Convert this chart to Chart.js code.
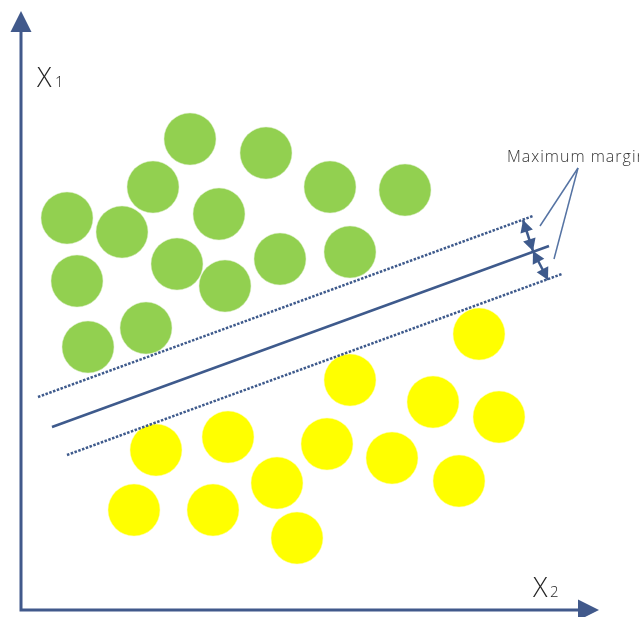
<!DOCTYPE html>
<html>
<head>
<meta charset="utf-8">
<script src="https://cdn.jsdelivr.net/npm/chart.js@4"></script>
<style>
  html, body { margin: 0; padding: 0; background: #ffffff; }
  #svmChart { display: block; }
</style>
</head>
<body>
<canvas id="svmChart" width="639" height="617"></canvas>
<script>
// Class A (green) and class B (yellow) samples, x = X2, y = X1
const greenX2 = [169, 245, 132, 309, 384, 46, 101, 198, 156, 259, 329, 56, 204, 125, 67];
const greenX1 = [471, 457, 423, 423, 420, 392, 378, 396, 346, 351, 358, 329, 324, 282, 263];
const yellowX2 = [458, 329, 412, 478, 135, 207, 306, 371, 438, 256, 113, 192, 276];
const yellowX1 = [276, 230, 208, 193, 160, 173, 166, 152, 129, 127, 100, 100, 72];

// Separating hyperplane and the two margin boundaries (start / end)
const hyperplaneX2 = [31, 528];
const hyperplaneX1 = [183, 364];
const upperMarginX2 = [17, 512];
const upperMarginX1 = [213, 394];
const lowerMarginX2 = [46, 541];
const lowerMarginX1 = [155, 336];

// Double arrows showing the margin width
const marginArrowX2 = [[502, 512], [512, 527]];
const marginArrowX1 = [[390, 359], [359, 330]];

// Callout from the label to each arrow
const calloutX2 = [557, 519, 533];
const calloutX1 = [442, 384, 351];

// Axis extents and labels
const axisMaxX2 = 578;
const axisMaxX1 = 599;
const labelText = 'Maximum margin';
const labelX2 = 486;
const labelX1 = 448;

const axisColor = '#41598B';
const lineColor = '#3E5A8C';

function toPoints(xs, ys) {
    return xs.map((x, i) => ({ x: x, y: ys[i] }));
}

function lineDataset(xs, ys, dashed) {
    return {
        type: 'line',
        data: toPoints(xs, ys),
        borderColor: lineColor,
        borderWidth: 2.5,
        borderDash: dashed ? [2.5, 1.5] : [],
        pointRadius: 0,
        fill: false,
        order: 0
    };
}

// filled triangle whose tip sits at (tx, ty), pointing away from (fx, fy)
function arrowHead(ctx, tx, ty, fx, fy, len, half) {
    const a = Math.atan2(ty - fy, tx - fx);
    const bx = tx - len * Math.cos(a);
    const by = ty - len * Math.sin(a);
    ctx.beginPath();
    ctx.moveTo(tx, ty);
    ctx.lineTo(bx + half * Math.sin(a), by - half * Math.cos(a));
    ctx.lineTo(bx - half * Math.sin(a), by + half * Math.cos(a));
    ctx.closePath();
    ctx.fill();
}

const decorations = {
    id: 'decorations',
    afterDatasetsDraw(chart) {
        const ctx = chart.ctx;
        const xs = chart.scales.x;
        const ys = chart.scales.y;
        const px = v => xs.getPixelForValue(v);
        const py = v => ys.getPixelForValue(v);

        ctx.save();

        // X1 / X2 axes with arrow heads
        const ox = px(0), oy = py(0);
        ctx.strokeStyle = axisColor;
        ctx.fillStyle = axisColor;
        ctx.lineWidth = 3;
        ctx.beginPath();
        ctx.moveTo(ox, py(axisMaxX1) + 18);
        ctx.lineTo(ox, oy);
        ctx.lineTo(px(axisMaxX2) - 18, oy);
        ctx.stroke();
        arrowHead(ctx, ox, py(axisMaxX1), ox, oy, 21, 10.5);
        arrowHead(ctx, px(axisMaxX2), oy, ox, oy, 21, 10.5);

        // margin double arrows
        ctx.strokeStyle = lineColor;
        ctx.fillStyle = lineColor;
        ctx.lineWidth = 2.5;
        marginArrowX2.forEach((xPair, i) => {
            const x1 = px(xPair[0]), y1 = py(marginArrowX1[i][0]);
            const x2 = px(xPair[1]), y2 = py(marginArrowX1[i][1]);
            ctx.beginPath();
            ctx.moveTo(x1, y1);
            ctx.lineTo(x2, y2);
            ctx.stroke();
            arrowHead(ctx, x1, y1, x2, y2, 12, 6.5);
            arrowHead(ctx, x2, y2, x1, y1, 12, 6.5);
        });

        // callout lines
        ctx.strokeStyle = '#5573A3';
        ctx.lineWidth = 1.5;
        for (let i = 1; i < calloutX2.length; i++) {
            ctx.beginPath();
            ctx.moveTo(px(calloutX2[0]), py(calloutX1[0]));
            ctx.lineTo(px(calloutX2[i]), py(calloutX1[i]));
            ctx.stroke();
        }

        // text
        ctx.fillStyle = '#333333';
        ctx.textBaseline = 'alphabetic';
        ctx.textAlign = 'left';
        ctx.font = '300 16px "Open Sans"';
        ctx.letterSpacing = '1px';
        ctx.fillText(labelText, px(labelX2), py(labelX1));
        ctx.letterSpacing = '0px';

        ctx.fillStyle = '#262626';
        ctx.font = '300 27px "Open Sans"';
        ctx.fillText('X', 37, 87);
        ctx.fillText('X', 533, 597);
        ctx.font = '300 15px "Open Sans"';
        ctx.fillText('1', 55, 87);
        ctx.fillText('2', 550, 597);

        ctx.restore();
    }
};

const ctx = document.getElementById('svmChart').getContext('2d');
const svmChart = new Chart(ctx, {
    type: 'scatter',
    data: {
        datasets: [
            {
                data: toPoints(greenX2, greenX1),
                backgroundColor: '#92D050',
                borderColor: '#DDEFCB',
                borderWidth: 0.5,
                pointRadius: 26,
                order: 1
            },
            {
                data: toPoints(yellowX2, yellowX1),
                backgroundColor: '#FFFF00',
                borderColor: '#FFFFB0',
                borderWidth: 0.5,
                pointRadius: 26,
                order: 1
            },
            lineDataset(hyperplaneX2, hyperplaneX1, false),
            lineDataset(upperMarginX2, upperMarginX1, true),
            lineDataset(lowerMarginX2, lowerMarginX1, true)
        ]
    },
    options: {
        responsive: false,
        animation: false,
        layout: {
            autoPadding: false,
            padding: { left: 21, right: 0, top: 0, bottom: 7 }
        },
        scales: {
            x: { type: 'linear', min: 0, max: 618, display: false },
            y: { type: 'linear', min: 0, max: 610, display: false }
        },
        plugins: {
            legend: { display: false },
            tooltip: { enabled: false }
        },
        events: []
    },
    plugins: [decorations]
});
</script>
</body>
</html>
